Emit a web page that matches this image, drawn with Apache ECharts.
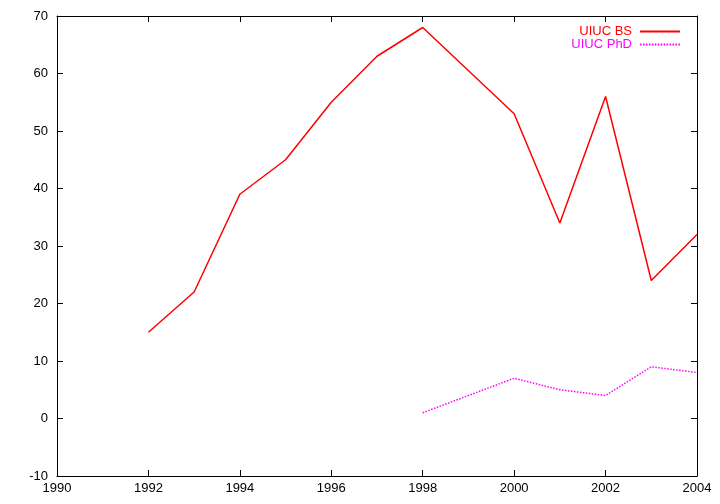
<!DOCTYPE html>
<html>
<head>
<meta charset="utf-8">
<script src="https://cdn.jsdelivr.net/npm/echarts@6/dist/echarts.min.js"></script>
<style>html,body{margin:0;padding:0;background:#fff}#c{width:720px;height:504px}</style>
</head>
<body>
<div id="c"></div>
<script>
var bsYears = [1992, 1993, 1994, 1995, 1996, 1997, 1998, 2000, 2001, 2002, 2003, 2004];
var bsValues = [15, 22, 39, 45, 55, 63, 68, 53, 34, 56, 24, 32];
var phdYears = [1998, 2000, 2001, 2002, 2003, 2004];
var phdValues = [1, 7, 5, 4, 9, 8];

function pairs(xs, ys) { return xs.map(function (x, i) { return [x, ys[i]]; }); }

// legend icons: solid bar and dotted bar
var solidIcon = 'path://M0,0h40v2h-40z';
var dotted = '';
for (var d = 0; d < 40; d += 3) { dotted += 'M' + d + ',0h1.6v2h-1.6z'; }
var dottedIcon = 'path://' + dotted;

var font = 'Liberation Sans, Arial, sans-serif';
var chart = echarts.init(document.getElementById('c'), null, {renderer: 'canvas'});
var axisCommon = {
  type: 'value',
  splitLine: {show: false},
  axisLine: {show: true, onZero: false, lineStyle: {color: '#000', width: 1}},
  axisTick: {show: true, inside: true, length: 6, lineStyle: {color: '#000'}}
};
chart.setOption({
  animation: false,
  backgroundColor: '#fff',
  grid: {left: 57, right: 23, top: 16, bottom: 28},
  legend: {
    right: 35, top: 20, orient: 'vertical', align: 'right',
    itemGap: 0, itemWidth: 40, itemHeight: 2,
    textStyle: {fontFamily: font, fontSize: 13, padding: [0, 3, 0, 0]},
    data: [
      {name: 'UIUC BS', icon: solidIcon, itemStyle: {color: '#ff0000'}, textStyle: {color: '#ff0000'}},
      {name: 'UIUC PhD', icon: dottedIcon, itemStyle: {color: '#ff00ff'}, textStyle: {color: '#ff00ff'}}
    ]
  },
  xAxis: [
    Object.assign({}, axisCommon, {
      position: 'bottom', min: 1990, max: 2004, interval: 2,
      axisLabel: {color: '#000', fontFamily: font, fontSize: 13, margin: 6,
        formatter: function (v) { return String(v); }}
    }),
    Object.assign({}, axisCommon, {
      position: 'top', min: 1990, max: 2004, interval: 2,
      axisLabel: {show: false}
    })
  ],
  yAxis: [
    Object.assign({}, axisCommon, {
      position: 'left', min: -10, max: 70, interval: 10,
      axisLabel: {color: '#000', fontFamily: font, fontSize: 13, margin: 9}
    }),
    Object.assign({}, axisCommon, {
      position: 'right', min: -10, max: 70, interval: 10,
      axisLabel: {show: false}
    })
  ],
  series: [
    {
      name: 'UIUC BS', type: 'line', data: pairs(bsYears, bsValues),
      symbol: 'none', lineStyle: {color: '#ff0000', width: 1.5}, itemStyle: {color: '#ff0000'}
    },
    {
      name: 'UIUC PhD', type: 'line', data: pairs(phdYears, phdValues),
      symbol: 'none', lineStyle: {color: '#ff00ff', width: 1.5, type: [1.5, 1.5]}, itemStyle: {color: '#ff00ff'}
    }
  ]
});
</script>
</body>
</html>
